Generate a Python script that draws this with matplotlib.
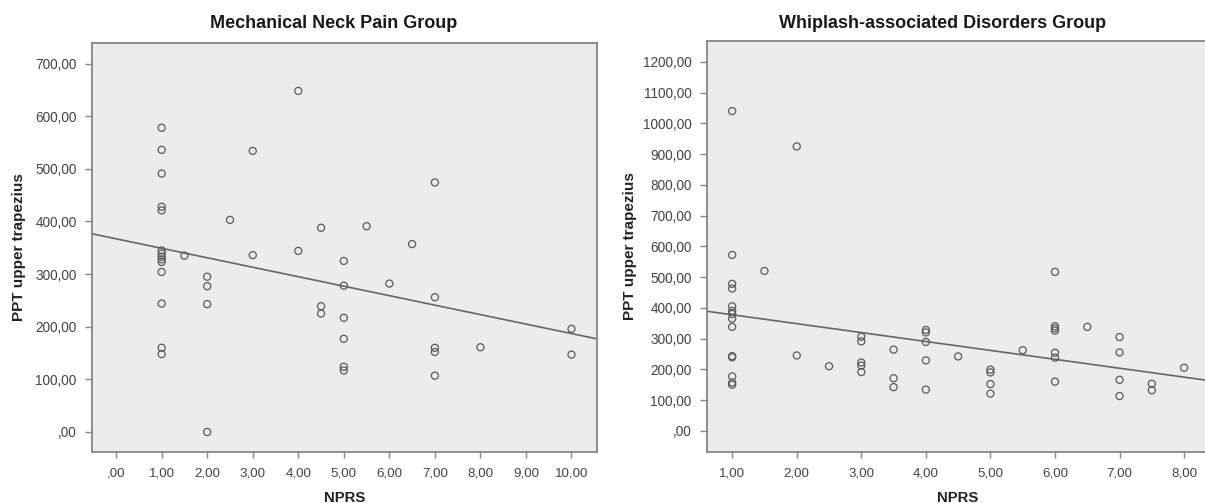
import numpy as np
import matplotlib
matplotlib.use("Agg")
import matplotlib.pyplot as plt

plt.rcParams['font.family'] = ['Liberation Sans', 'DejaVu Sans']

# -------------------------
# Data
# -------------------------
# Mechanical Neck Pain group: NPRS vs PPT upper trapezius
mnp_nprs = [1, 1, 1, 1, 1, 1, 1, 1, 1, 1, 1, 1, 1, 1,
            1.5,
            2, 2, 2, 2,
            2.5,
            3, 3,
            4, 4,
            4.5, 4.5, 4.5,
            5, 5, 5, 5, 5, 5,
            5.5,
            6,
            6.5,
            7, 7, 7, 7, 7,
            8,
            10, 10]
mnp_ppt = [578, 536, 491, 428, 421, 345, 339, 333, 328, 323, 304, 244, 160, 148,
           335,
           295, 277, 243, 0,
           403,
           534, 336,
           648, 344,
           388, 239, 225,
           325, 278, 217, 177, 124, 117,
           391,
           282,
           357,
           474, 256, 160, 152, 107,
           161,
           196, 147]

# Whiplash-associated Disorders group
wad_nprs = [1, 1, 1, 1, 1, 1, 1, 1, 1, 1, 1, 1, 1, 1,
            1.5,
            2, 2,
            2.5,
            3, 3, 3, 3, 3,
            3.5, 3.5, 3.5,
            4, 4, 4, 4, 4,
            4.5,
            5, 5, 5, 5,
            5.5,
            6, 6, 6, 6, 6, 6, 6,
            6.5,
            7, 7, 7, 7,
            7.5, 7.5,
            8]
wad_ppt = [1040, 572, 478, 463, 405, 390, 380, 365, 338, 243, 239, 177, 157, 150,
           520,
           925, 245,
           210,
           306, 291, 222, 212, 191,
           264, 171, 142,
           328, 320, 289, 229, 134,
           242,
           199, 190, 152, 121,
           262,
           517, 340, 333, 326, 254, 238, 160,
           338,
           305, 255, 166, 113,
           153, 132,
           205]

# linear fit lines (intercept, slope) as drawn in the chart
mnp_fit = (367.0, -18.0)
wad_fit = (406.5, -29.0)

mnp_xticks = np.arange(0, 11, 1)
mnp_yticks = np.arange(0, 800, 100)
wad_xticks = np.arange(1, 9, 1)
wad_yticks = np.arange(0, 1300, 100)


def fmt(v):
    s = f"{v:.2f}".replace('.', ',')
    return s[1:] if s.startswith('0') else s


W, H = 1205, 503
fig = plt.figure(figsize=(W / 100, H / 100), dpi=100)

frame_col = '#858585'
text_col = '#444444'
point_col = '#5a5a5a'

panels = [
    dict(rect=[92 / W, 1 - 452 / H, (597 - 92) / W, (452 - 43) / H],
         x=mnp_nprs, y=mnp_ppt, fit=mnp_fit, xlim=(-0.53, 10.56), ylim=(-38, 739),
         xt=mnp_xticks, yt=mnp_yticks, title='Mechanical Neck Pain Group', tx=334 / W,
         ylpad=7),
    dict(rect=[707 / W, 1 - 452 / H, (1208 - 707) / W, (452 - 41) / H],
         x=wad_nprs, y=wad_ppt, fit=wad_fit, xlim=(0.61, 8.37), ylim=(-69, 1268),
         xt=wad_xticks, yt=wad_yticks, title='Whiplash-associated Disorders Group', tx=943 / W,
         ylpad=4),
]

for p in panels:
    ax = fig.add_axes(p['rect'])
    ax.set_facecolor('#ececec')
    ax.scatter(p['x'], p['y'], s=26, facecolors='none', edgecolors=point_col,
               linewidths=0.9, zorder=3)
    xl = np.array(p['xlim'])
    b0, b1 = p['fit']
    ax.plot(xl, b0 + b1 * xl, color='#666666', lw=1.2, zorder=2)
    ax.set_xlim(*p['xlim'])
    ax.set_ylim(*p['ylim'])
    ax.set_xticks(p['xt'])
    ax.set_xticklabels([fmt(v) for v in p['xt']])
    ax.set_yticks(p['yt'])
    ax.set_yticklabels([fmt(v) for v in p['yt']])
    for sp in ax.spines.values():
        sp.set_color(frame_col)
        sp.set_linewidth(1.3)
    ax.tick_params(axis='x', length=4, width=1, color=frame_col, pad=7,
                   labelsize=9.6, labelcolor=text_col)
    ax.tick_params(axis='y', length=5, width=1, color=frame_col, pad=6,
                   labelsize=9.8, labelcolor=text_col)
    ax.set_xlabel('NPRS', fontsize=10.7, fontweight='bold', color='#222222', labelpad=8.5)
    ax.set_ylabel('PPT upper trapezius', fontsize=11, fontweight='bold',
                  color='#222222', labelpad=p['ylpad'])
    fig.text(p['tx'], 1 - 23 / H, p['title'], ha='center', va='center',
             fontsize=13, fontweight='bold', color='#1a1a1a')

fig.savefig('out.png', dpi=100)
